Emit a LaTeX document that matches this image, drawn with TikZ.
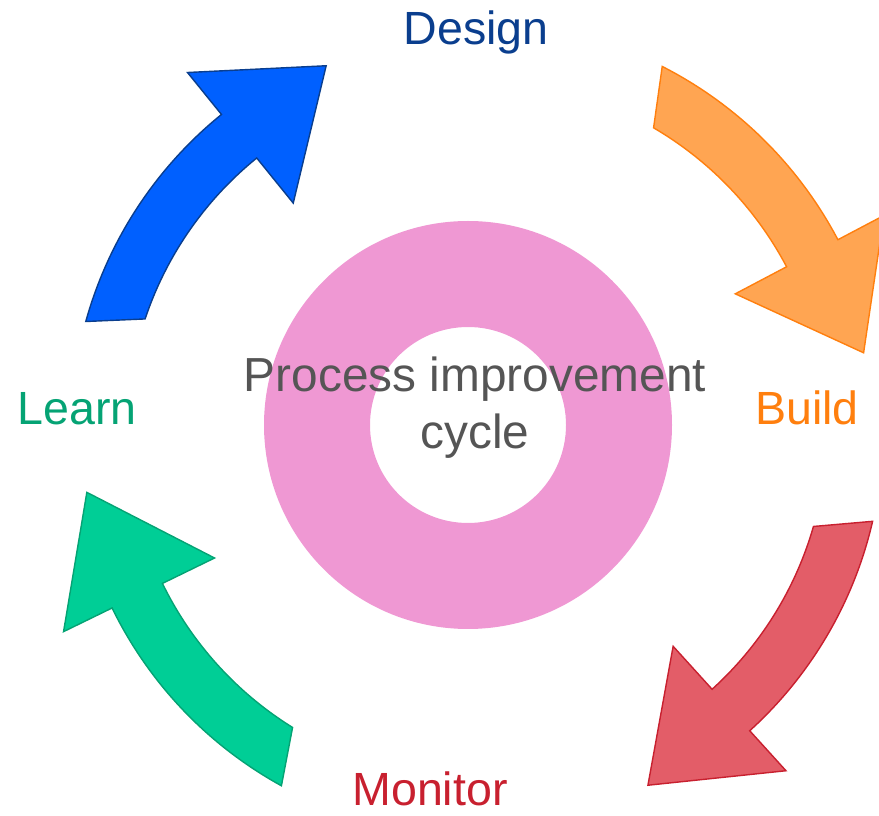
\documentclass[tikz,border=0pt]{standalone}
\usepackage{fontspec}
\setmainfont{Liberation Sans}
\usetikzlibrary{calc,positioning}
\definecolor{designfill}{HTML}{0060FF}
\definecolor{designline}{HTML}{0A3E8E}
\definecolor{buildfill}{HTML}{FFA552}
\definecolor{buildline}{HTML}{FF7F0E}
\definecolor{monitorfill}{HTML}{E35D68}
\definecolor{monitorline}{HTML}{C8202F}
\definecolor{learnfill}{HTML}{00CE96}
\definecolor{learnline}{HTML}{05A374}
\definecolor{ringpink}{HTML}{EF98D3}
\definecolor{cyclegray}{HTML}{555555}

\begin{document}
\begin{tikzpicture}[x=0.02cm, y=0.02cm,
  phase/.style={font=\fontsize{26.5}{32}\selectfont, anchor=base, inner sep=0pt},
  bent arrow/.style={line width=0.8pt, line join=miter}]
\useasboundingbox (0,0) rectangle (879,815);

\coordinate (C) at (477,385);
\coordinate (R) at (468,390);

% pink ring in the middle
\fill[ringpink, even odd rule] (R) circle[radius=204] (R) circle[radius=98];

\node[phase, font=\fontsize{27.2}{32.5}\selectfont, text=cyclegray, align=center, anchor=center] (cycle) at (475,407) {Process improvement\\cycle};

% the four curved arrows, clockwise
\filldraw[bent arrow, draw=designline, fill=designfill] ($(C)+(164.5:406)$) arc[start angle=164.5, end angle=129, radius=406]
    -- ($(C)+(129:460)$) -- ($(C)+(129:378)+(39:112)$) -- ($(C)+(129:292)$)
    -- ($(C)+(129:350)$) arc[start angle=129, end angle=161.5, radius=350] -- cycle;

\filldraw[bent arrow, draw=buildline, fill=buildfill] ($(C)+(63:408)$) arc[start angle=63, end angle=27.8, radius=408]
    -- ($(C)+(27.8:460)$) -- ($(C)+(27.8:378)+(-62.2:112)$) -- ($(C)+(27.8:292)$)
    -- ($(C)+(27.8:350)$) arc[start angle=27.8, end angle=59.7, radius=350] -- cycle;

\filldraw[bent arrow, draw=monitorline, fill=monitorfill] ($(C)+(-13:406)$) arc[start angle=-13, end angle=-47.8, radius=406]
    -- ($(C)+(-47.8:460)$) -- ($(C)+(-47.8:378)+(-137.8:112)$) -- ($(C)+(-47.8:292)$)
    -- ($(C)+(-47.8:350)$) arc[start angle=-47.8, end angle=-16, radius=350] -- cycle;

\filldraw[bent arrow, draw=learnline, fill=learnfill] ($(C)+(241.2:406)$) arc[start angle=241.2, end angle=206, radius=406]
    -- ($(C)+(206:460)$) -- ($(C)+(206:378)+(116:115)$) -- ($(C)+(206:292)$)
    -- ($(C)+(206:350)$) arc[start angle=206, end angle=238.2, radius=350] -- cycle;

\node[phase, text=designline] (design) at (476,770) {Design};
\node[phase, text=buildline] (build) at (807,390) {Build};
\node[phase, text=monitorline] (monitor) at (430,10) {Monitor};
\node[phase, text=learnline] (learn) at (77,390) {Learn};

\end{tikzpicture}
\end{document}
